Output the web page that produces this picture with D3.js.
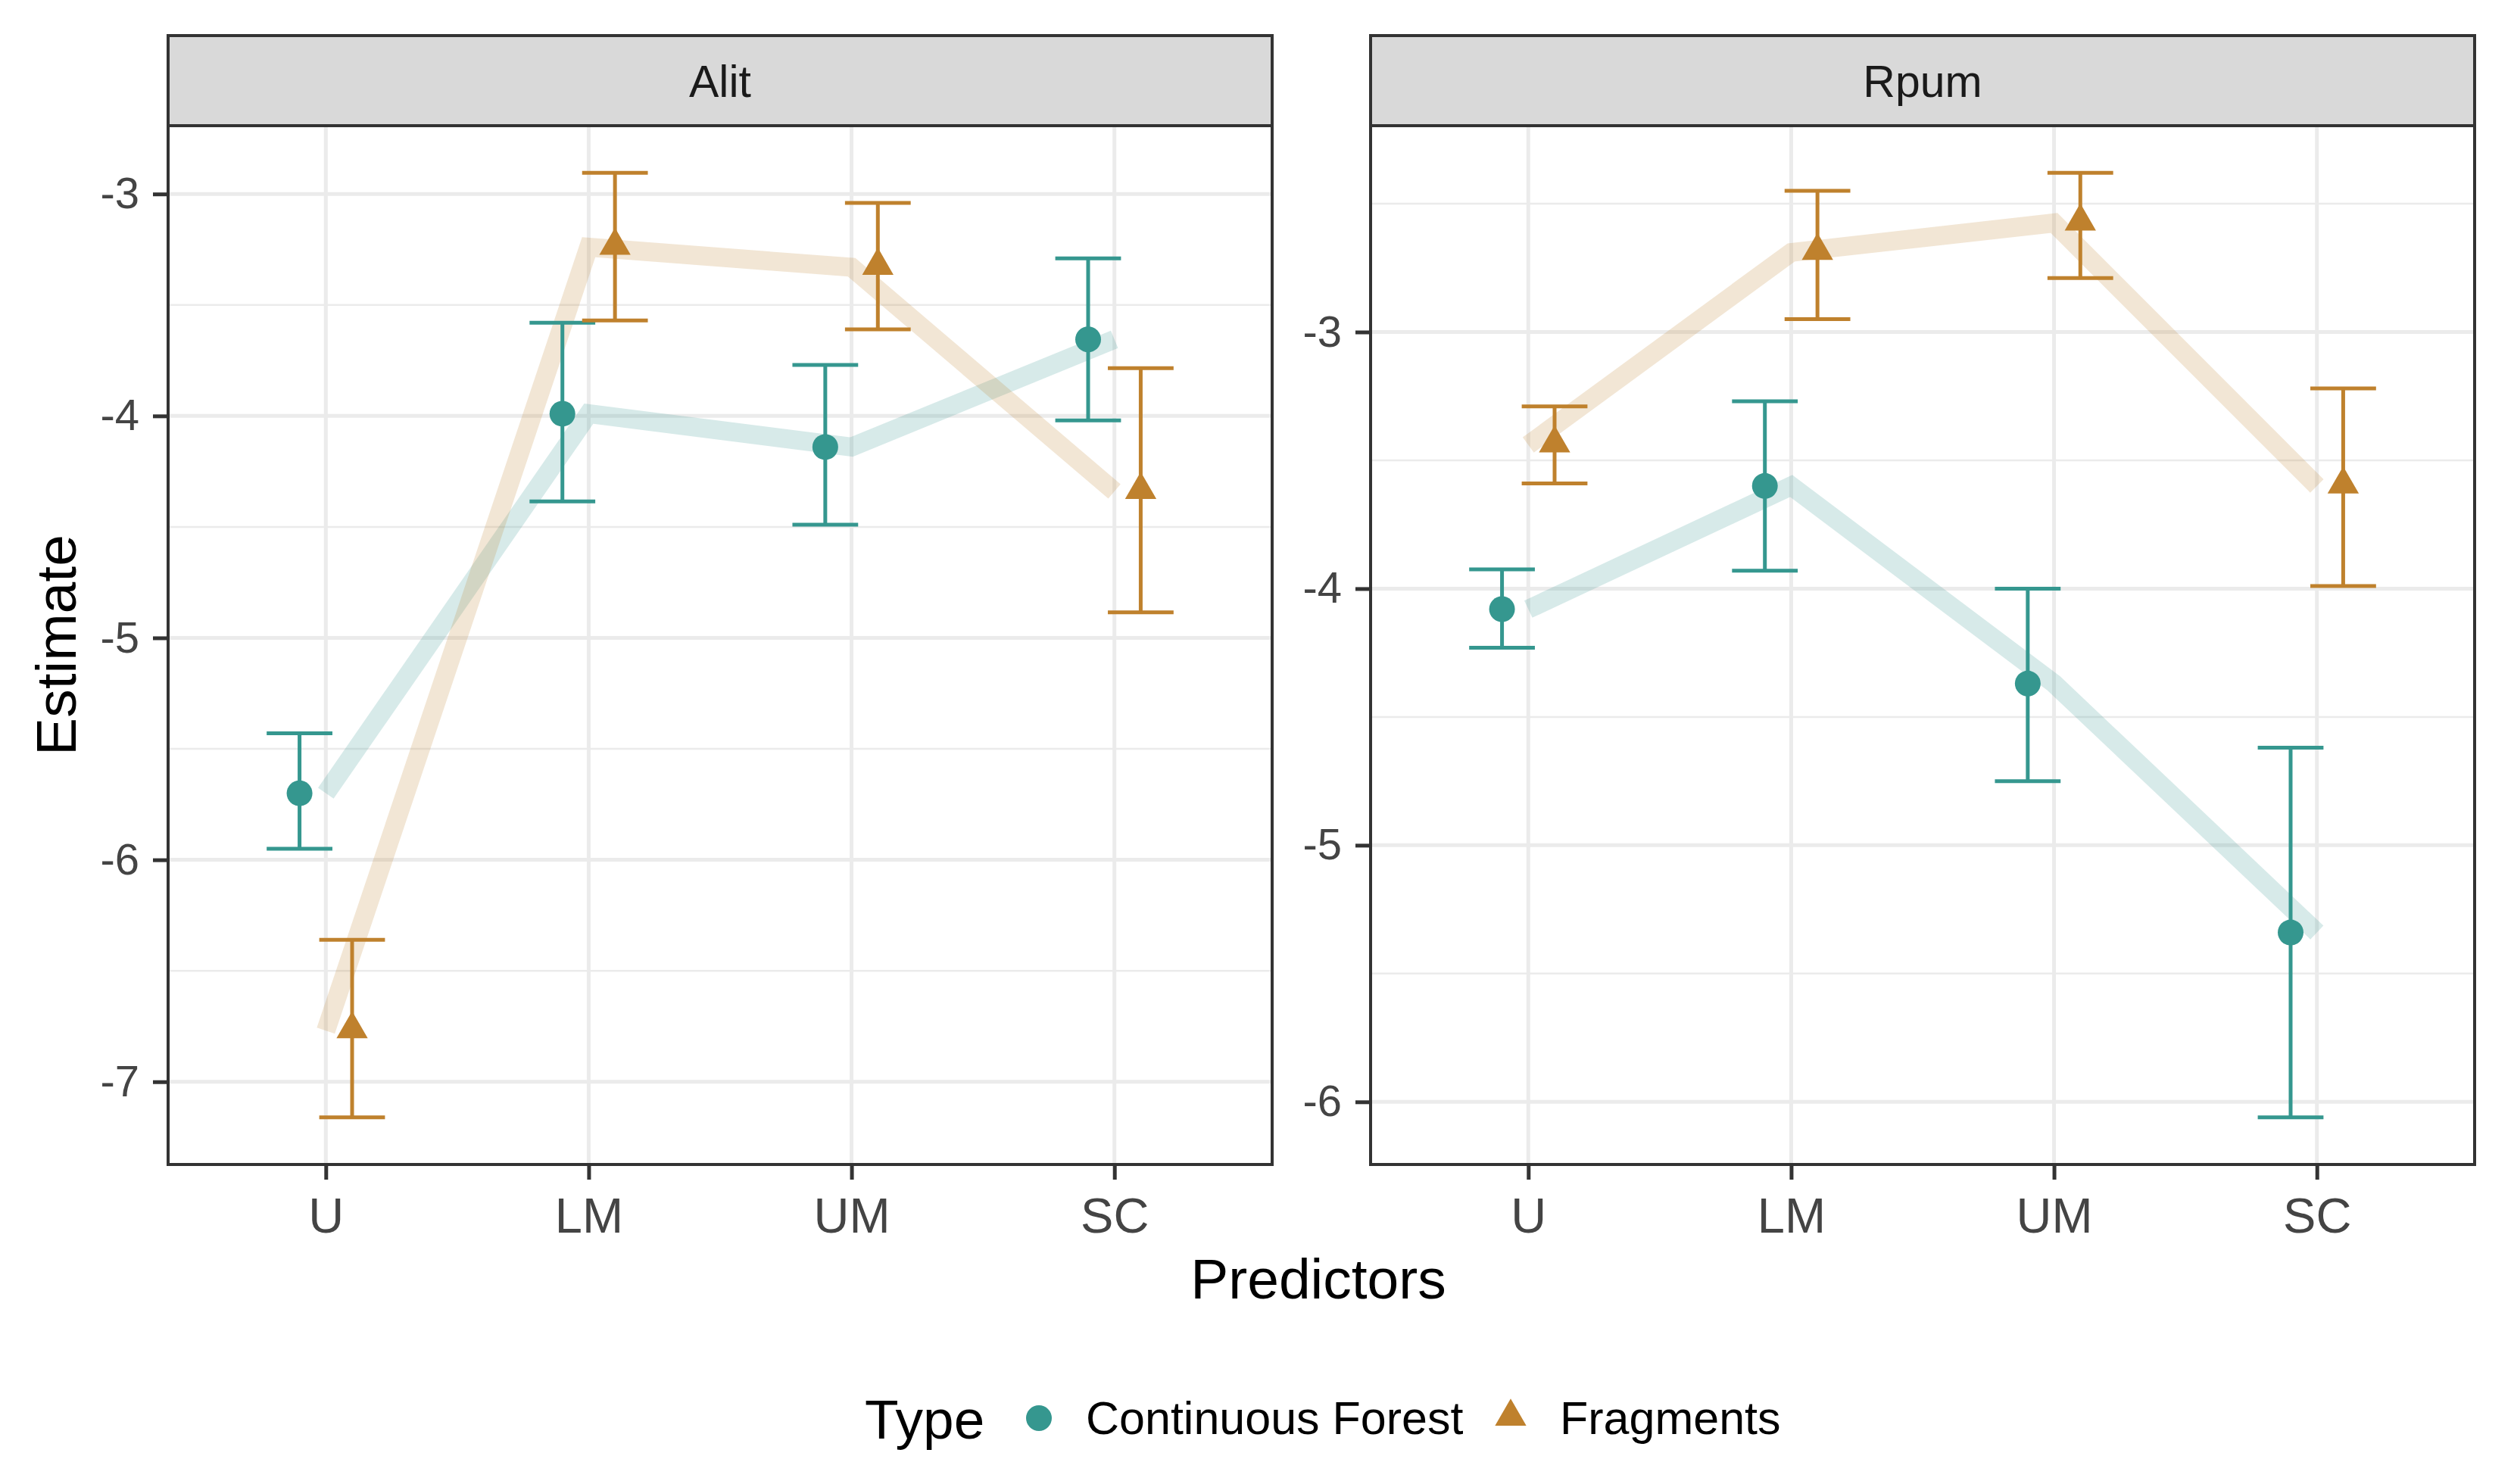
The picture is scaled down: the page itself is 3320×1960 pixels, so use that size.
<!DOCTYPE html>
<html>
<head>
<meta charset="utf-8">
<script src="https://cdnjs.cloudflare.com/ajax/libs/d3/7.8.5/d3.min.js"></script>
<style>
  body { margin: 0; background: #fff; }
  text { font-family: "Liberation Sans", Arial, sans-serif; }
</style>
</head>
<body>
<script>
// categories
var predictors = ["U", "LM", "UM", "SC"];
var types = ["Continuous Forest", "Fragments"];
var panels = ["Alit", "Rpum"];

// Alit - estimates and intervals
var alitForest     = [-5.70, -3.99, -4.14, -3.655];
var alitForestLow  = [-5.95, -4.385, -4.49, -4.02];
var alitForestHigh = [-5.43, -3.58, -3.77, -3.29];
var alitFrag       = [-6.77, -3.24, -3.33, -4.34];
var alitFragLow    = [-7.16, -3.57, -3.61, -4.885];
var alitFragHigh   = [-6.36, -2.905, -3.04, -3.785];

// Rpum - estimates and intervals
var rpumForest     = [-4.08, -3.6, -4.37, -5.34];
var rpumForestLow  = [-4.23, -3.93, -4.75, -6.06];
var rpumForestHigh = [-3.925, -3.27, -4.0, -4.62];
var rpumFrag       = [-3.44, -2.69, -2.575, -3.6];
var rpumFragLow    = [-3.59, -2.95, -2.79, -3.99];
var rpumFragHigh   = [-3.29, -2.45, -2.38, -3.22];

// tick labels
var alitTicks = [-3, -4, -5, -6, -7];
var rpumTicks = [-3, -4, -5, -6];

var colors = ["#35978f", "#bf812d"];

//tabel per paneel opbouwen
function series(est, lo, hi) {
  return predictors.map(function(p, i){ return {pred: p, est: est[i], lo: lo[i], hi: hi[i]}; });
}
var panelData = [
  {name: panels[0], ticks: alitTicks,
   series: [series(alitForest, alitForestLow, alitForestHigh), series(alitFrag, alitFragLow, alitFragHigh)]},
  {name: panels[1], ticks: rpumTicks,
   series: [series(rpumForest, rpumForestLow, rpumForestHigh), series(rpumFrag, rpumFragLow, rpumFragHigh)]}
];

var W = 3320, H = 1960;
var stripTop = 47, stripH = 119;
var panelTop = stripTop + stripH, panelBottom = 1538;
var panelW = 1458;
var panelLefts = [222, 1810];
var dodge = 0.1, capW = 0.25;

var svg = d3.select("body").append("svg")
  .attr("width", W).attr("height", H);

panelData.forEach(function(pd, k){
  var left = panelLefts[k];
  var g = svg.append("g").attr("transform", "translate(" + left + ",0)");

  //y schaal met 5% marge zoals ggplot
  var all = [];
  pd.series.forEach(function(s){ s.forEach(function(d){ all.push(d.lo, d.hi); }); });
  var mn = d3.min(all), mx = d3.max(all), pad = (mx - mn) * 0.05;
  var y = d3.scaleLinear().domain([mn - pad, mx + pad]).range([panelBottom, panelTop]);

  //x schaal: discreet met 0.6 uitbreiding
  var x = d3.scaleLinear().domain([0.4, predictors.length + 0.6]).range([0, panelW]);
  var xPos = function(i){ return x(i + 1); };

  // grid
  var minor = [];
  var dom = y.domain();
  for (var v = Math.ceil(dom[0] * 2) / 2; v <= dom[1]; v += 0.5) {
    if (Math.abs(v - Math.round(v)) > 0.01) minor.push(v);
  }
  g.selectAll(".minor").data(minor).enter().append("line")
    .attr("x1", 0).attr("x2", panelW)
    .attr("y1", function(d){ return y(d); }).attr("y2", function(d){ return y(d); })
    .attr("stroke", "#ebebeb").attr("stroke-width", 2.5);
  g.selectAll(".majory").data(pd.ticks).enter().append("line")
    .attr("x1", 0).attr("x2", panelW)
    .attr("y1", function(d){ return y(d); }).attr("y2", function(d){ return y(d); })
    .attr("stroke", "#ebebeb").attr("stroke-width", 5);
  g.selectAll(".majorx").data(predictors).enter().append("line")
    .attr("x1", function(d, i){ return xPos(i); }).attr("x2", function(d, i){ return xPos(i); })
    .attr("y1", panelTop).attr("y2", panelBottom)
    .attr("stroke", "#ebebeb").attr("stroke-width", 5);

  // dikke doorzichtige lijnen
  var line = d3.line()
    .x(function(d, i){ return xPos(i); })
    .y(function(d){ return y(d.est); });
  pd.series.forEach(function(s, j){
    g.append("path").datum(s)
      .attr("d", line)
      .attr("fill", "none")
      .attr("stroke", colors[j])
      .attr("stroke-opacity", 0.2)
      .attr("stroke-width", 25);
  });

  // error bars + punten
  pd.series.forEach(function(s, j){
    var off = j === 0 ? -dodge : dodge;
    var cx = function(i){ return x(i + 1 + off); };
    var half = (x(1 + capW / 2) - x(1));
    var eb = g.append("g").attr("stroke", colors[j]).attr("stroke-width", 5);
    s.forEach(function(d, i){
      eb.append("line").attr("x1", cx(i)).attr("x2", cx(i)).attr("y1", y(d.lo)).attr("y2", y(d.hi));
      eb.append("line").attr("x1", cx(i) - half).attr("x2", cx(i) + half).attr("y1", y(d.lo)).attr("y2", y(d.lo));
      eb.append("line").attr("x1", cx(i) - half).attr("x2", cx(i) + half).attr("y1", y(d.hi)).attr("y2", y(d.hi));
    });
    if (j === 0) {
      g.selectAll(".pt" + j).data(s).enter().append("circle")
        .attr("cx", function(d, i){ return cx(i); })
        .attr("cy", function(d){ return y(d.est); })
        .attr("r", 17).attr("fill", colors[j]);
    } else {
      g.selectAll(".pt" + j).data(s).enter().append("path")
        .attr("d", d3.symbol(d3.symbolTriangle, 740))
        .attr("transform", function(d, i){ return "translate(" + cx(i) + "," + (y(d.est) - 2) + ")"; })
        .attr("fill", colors[j]);
    }
  });

  // paneelrand
  g.append("rect").attr("x", 0).attr("y", panelTop).attr("width", panelW).attr("height", panelBottom - panelTop)
    .attr("fill", "none").attr("stroke", "#333333").attr("stroke-width", 4);

  // strip
  g.append("rect").attr("x", 0).attr("y", stripTop).attr("width", panelW).attr("height", stripH)
    .attr("fill", "#d9d9d9").attr("stroke", "#333333").attr("stroke-width", 4);
  g.append("text").attr("x", panelW / 2).attr("y", stripTop + stripH / 2 + 21)
    .attr("text-anchor", "middle").attr("font-size", 59).attr("fill", "#1a1a1a").text(pd.name);

  // assen
  var yAxis = d3.axisLeft(y).tickValues(pd.ticks).tickSize(20).tickPadding(18).tickSizeOuter(0)
    .tickFormat(d3.format("d"));
  var ya = g.append("g").call(yAxis);
  ya.select(".domain").remove();
  ya.selectAll("line").attr("stroke", "#333333").attr("stroke-width", 5);
  ya.selectAll("text").attr("font-size", 58).attr("fill", "#444444")
    .style("font-family", "'Liberation Sans', Arial, sans-serif").text(function(d){ return "-" + Math.abs(d); });

  var xAxis = d3.axisBottom(d3.scalePoint().domain(predictors).range([xPos(0), xPos(3)]))
    .tickSize(20).tickPadding(24).tickSizeOuter(0);
  var xa = g.append("g").attr("transform", "translate(0," + panelBottom + ")").call(xAxis);
  xa.select(".domain").remove();
  xa.selectAll("line").attr("stroke", "#333333").attr("stroke-width", 5);
  xa.selectAll("text").attr("font-size", 65).attr("fill", "#444444")
    .style("font-family", "'Liberation Sans', Arial, sans-serif");
});

// as titels
svg.append("text").attr("x", 1741).attr("y", 1715).attr("text-anchor", "middle")
  .attr("font-size", 75).attr("fill", "#000").text("Predictors");
svg.append("text").attr("transform", "translate(100,852) rotate(-90)").attr("text-anchor", "middle")
  .attr("font-size", 75).attr("fill", "#000").text("Estimate");

// legenda
var lg = svg.append("g");
lg.append("text").attr("x", 1142).attr("y", 1900).attr("font-size", 73).attr("fill", "#000").text("Type");
lg.append("circle").attr("cx", 1372).attr("cy", 1873).attr("r", 17).attr("fill", colors[0]);
lg.append("text").attr("x", 1434).attr("y", 1894).attr("font-size", 61).attr("fill", "#000").text(types[0]);
lg.append("path").attr("d", d3.symbol(d3.symbolTriangle, 740))
  .attr("transform", "translate(1995,1871)").attr("fill", colors[1]);
lg.append("text").attr("x", 2060).attr("y", 1894).attr("font-size", 61).attr("fill", "#000").text(types[1]);
</script>
</body>
</html>
